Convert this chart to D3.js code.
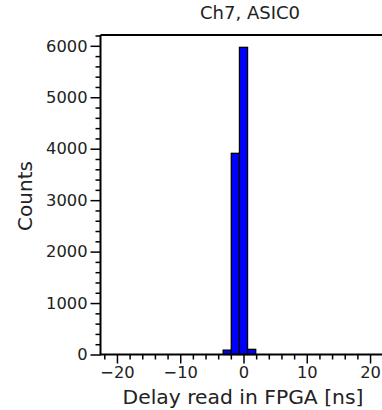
<!DOCTYPE html>
<html><head><meta charset="utf-8">
<script src="https://cdn.jsdelivr.net/npm/d3@7"></script>
<style>body{margin:0;background:#fff}svg{display:block}text{font-family:"DejaVu Sans",sans-serif;fill:#222}</style>
</head><body><svg id="c" width="382" height="410"></svg>
<script>
const title = "Ch7, ASIC0";
const xLabel = "Delay read in FPGA [ns]";
const yLabel = "Counts";
const binStarts = [-3.21, -1.93, -0.64, 0.64];
const binEnds = [-1.93, -0.64, 0.64, 1.93];
const counts = [85, 3910, 5970, 100];
const xMajorTicks = [-20, -10, 0, 10, 20];
const yMajorTicks = [0, 1000, 2000, 3000, 4000, 5000, 6000];
const xDomain = [-22.6, 22.6];
const yDomain = [0, 6210];

const svg = d3.select("#c");
const L = 100.5, R = 386.5, T = 35, B = 354.5;
const x = d3.scaleLinear().domain(xDomain).range([L, R]);
const y = d3.scaleLinear().domain(yDomain).range([B, T]);

svg.append("g").selectAll("rect").data(counts).join("rect")
  .attr("x", (d, i) => x(binStarts[i]))
  .attr("width", (d, i) => x(binEnds[i]) - x(binStarts[i]))
  .attr("y", d => y(d))
  .attr("height", d => y(0) - y(d))
  .attr("fill", "#0000ff").attr("stroke", "#000").attr("stroke-width", 1.3);

const xMinor = d3.range(-22, 23, 2).filter(v => v % 10 !== 0);
const yMinor = d3.range(0, 6201, 200).filter(v => v % 1000 !== 0);

const gx = svg.append("g").attr("transform", `translate(0,${B})`);
gx.call(d3.axisBottom(x).tickValues(xMinor).tickSize(5).tickFormat(""));
gx.call(g => g.select(".domain").remove());
const gx2 = svg.append("g").attr("transform", `translate(0,${B})`)
  .call(d3.axisBottom(x).tickValues(xMajorTicks).tickSize(9).tickPadding(3)
    .tickFormat(d => d < 0 ? "\u2212" + Math.abs(d) : d));
gx2.select(".domain").remove();

const gy = svg.append("g").attr("transform", `translate(${L},0)`);
gy.call(d3.axisLeft(y).tickValues(yMinor).tickSize(5).tickFormat(""));
gy.select(".domain").remove();
const gy2 = svg.append("g").attr("transform", `translate(${L},0)`)
  .call(d3.axisLeft(y).tickValues(yMajorTicks).tickSize(10).tickPadding(3).tickFormat(d3.format("d")));
gy2.select(".domain").remove();

svg.selectAll(".tick line").attr("stroke", "#000").attr("stroke-width", 1.5);
svg.selectAll(".tick text").attr("font-size", 16.3).attr("fill", "#222").attr("font-family", "DejaVu Sans");

// spines
svg.append("path").attr("d", `M${L},${T}L${R},${T}`).attr("stroke", "#000").attr("stroke-width", 2).attr("fill", "none");
svg.append("path").attr("d", `M${L},${T}V${B}H${R}`).attr("stroke", "#000").attr("stroke-width", 2).attr("fill", "none");

svg.append("text").attr("x", 250).attr("y", 19).attr("text-anchor", "middle").attr("font-size", 18).text(title);
svg.append("text").attr("x", 243).attr("y", 404).attr("text-anchor", "middle").attr("font-size", 20.3).text(xLabel);
svg.append("text").attr("transform", `translate(32,196) rotate(-90)`).attr("text-anchor", "middle").attr("font-size", 20).text(yLabel);
</script></body></html>
